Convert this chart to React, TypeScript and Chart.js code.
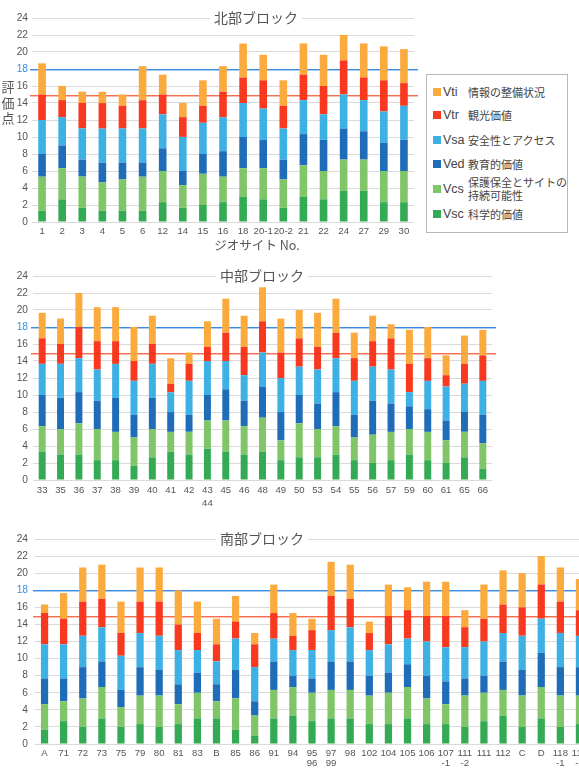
import React, { useEffect, useRef } from 'react';
import { Chart, registerables } from 'chart.js';

Chart.register(...registerables);

// ---------- series definitions (bottom → top of each stack) ----------
const SERIES_KEYS = ['Vsc', 'Vcs', 'Ved', 'Vsa', 'Vtr', 'Vti'];
const SERIES_NAMES = ['科学的価値', '保護保全とサイトの\n持続可能性', '教育的価値', '安全性とアクセス', '観光価値', '情報の整備状況'];
const SERIES_COLORS = ['#35AA55', '#80C668', '#1F6DB9', '#3DB0E4', '#F8391F', '#FBAB3D'];

// reference lines
const REF_VALUES = [18, 15];
const REF_COLORS = ['rgb(60,140,225)', 'rgb(245,110,80)'];
const Y_MAX = 24;
const Y_STEP = 2;

// ---------- 北部ブロック ----------
const NORTH_SITES = ['1', '2', '3', '4', '5', '6', '12', '14', '15', '16', '18', '20-1', '20-2', '21', '22', '24', '27', '29', '30'];
const NORTH_VSC = [1.33, 2.67, 1.67, 1.33, 1.33, 1.33, 2.33, 1.67, 2.0, 2.33, 3.0, 2.67, 1.67, 3.0, 2.67, 3.67, 3.67, 2.33, 2.33];
const NORTH_VCS = [4.0, 3.67, 3.67, 3.33, 3.67, 4.0, 3.67, 2.67, 3.67, 3.0, 3.33, 3.67, 3.33, 3.67, 3.33, 3.67, 3.67, 3.67, 3.67];
const NORTH_VED = [2.67, 2.67, 2.0, 2.33, 2.0, 1.67, 2.67, 1.67, 2.33, 3.0, 3.67, 3.33, 2.33, 3.67, 3.67, 3.67, 3.33, 3.33, 3.67];
const NORTH_VSA = [4.0, 3.33, 3.67, 4.0, 4.0, 4.0, 4.0, 4.0, 3.67, 4.0, 4.0, 3.67, 3.67, 4.0, 3.0, 4.0, 3.67, 3.67, 4.0];
const NORTH_VTR = [3.0, 2.0, 3.0, 3.0, 2.67, 3.33, 2.33, 2.33, 2.0, 3.0, 3.0, 3.33, 2.67, 3.0, 3.33, 4.0, 2.67, 3.67, 2.67];
const NORTH_VTI = [3.67, 1.67, 1.33, 1.33, 1.33, 4.0, 2.33, 1.67, 3.0, 3.0, 4.0, 3.0, 3.0, 3.67, 3.67, 3.0, 4.0, 4.0, 4.0];

// ---------- 中部ブロック ----------
const CENTRAL_SITES = ['33', '35', '36', '37', '38', '39', '40', '41', '42', ['43', '44'], '45', '46', '48', '49', '50', '53', '54', '55', '56', '57', '59', '60', '61', '65', '66'];
const CENTRAL_VSC = [3.33, 3.0, 3.0, 2.33, 2.33, 1.67, 2.67, 3.33, 3.0, 3.67, 3.33, 3.0, 3.33, 2.33, 2.67, 2.67, 3.0, 2.33, 2.0, 2.33, 3.0, 2.33, 2.0, 2.67, 1.33];
const CENTRAL_VCS = [3.0, 3.0, 3.67, 3.67, 3.33, 3.33, 3.33, 2.33, 2.67, 3.33, 3.67, 3.33, 4.0, 2.33, 4.0, 3.33, 3.33, 2.67, 3.33, 3.33, 3.0, 3.33, 2.67, 3.0, 3.0];
const CENTRAL_VED = [3.67, 3.67, 3.67, 3.33, 4.0, 2.67, 3.67, 2.33, 2.0, 3.0, 3.67, 3.0, 3.67, 3.33, 3.33, 3.0, 4.0, 2.67, 4.0, 3.33, 2.67, 2.67, 2.33, 2.33, 3.33];
const CENTRAL_VSA = [3.67, 4.0, 4.0, 3.67, 4.0, 4.0, 4.0, 2.33, 4.0, 4.0, 3.33, 3.0, 4.0, 4.0, 3.33, 4.0, 4.0, 4.0, 4.0, 4.0, 1.67, 3.33, 4.0, 3.33, 4.0];
const CENTRAL_VTR = [3.0, 2.33, 3.67, 3.33, 2.67, 2.33, 2.33, 1.0, 2.0, 1.67, 3.33, 3.33, 3.67, 3.0, 3.33, 2.67, 3.0, 2.67, 3.0, 3.67, 3.33, 2.67, 1.33, 2.33, 3.0];
const CENTRAL_VTI = [3.0, 3.0, 4.0, 4.0, 4.0, 4.0, 3.33, 3.0, 1.33, 3.0, 4.0, 3.67, 4.0, 4.0, 3.33, 4.0, 4.0, 3.0, 3.0, 1.67, 4.0, 3.67, 2.33, 3.33, 3.0];

// ---------- 南部ブロック ----------
const SOUTH_SITES = ['A', '71', '72', '73', '75', '79', '80', '81', '83', 'B', '85', '86', '91', '94', ['95', '96'], ['97', '99'], '98', '102', '104', '105', '106', ['107', '-1'], ['111', '-2'], '111', '112', 'C', 'D', ['118', '-1'], ['118', '-2']];
const SOUTH_VSC = [1.67, 2.67, 2.0, 3.0, 2.0, 2.33, 2.0, 2.33, 3.0, 3.0, 1.67, 1.0, 3.0, 3.33, 2.67, 3.0, 3.0, 2.33, 2.33, 3.0, 2.33, 2.33, 2.0, 2.67, 3.33, 2.0, 3.0, 2.0, 2.33];
const SOUTH_VCS = [3.0, 2.33, 3.33, 3.67, 2.33, 3.33, 3.67, 2.33, 3.0, 2.0, 3.67, 2.33, 3.33, 3.33, 3.33, 3.33, 3.33, 3.33, 3.67, 3.67, 3.0, 2.33, 3.67, 3.33, 3.0, 3.67, 3.67, 3.67, 3.33];
const SOUTH_VED = [3.0, 2.67, 3.67, 3.0, 2.0, 3.33, 3.0, 2.33, 2.33, 2.0, 3.33, 1.67, 3.33, 1.33, 1.67, 3.33, 3.33, 2.33, 2.33, 2.67, 2.67, 2.67, 2.0, 2.0, 3.33, 3.0, 4.0, 3.33, 3.33];
const SOUTH_VSA = [4.0, 4.0, 3.67, 4.0, 4.0, 4.0, 4.0, 4.0, 2.67, 2.67, 3.67, 4.0, 2.67, 3.0, 3.33, 3.67, 4.0, 3.0, 3.33, 3.0, 4.0, 4.0, 3.67, 4.0, 3.33, 4.0, 4.0, 4.0, 3.67];
const SOUTH_VTR = [3.67, 3.0, 4.0, 3.33, 2.67, 3.67, 4.0, 3.0, 2.0, 2.0, 2.0, 2.67, 3.0, 1.67, 2.33, 4.0, 3.33, 2.0, 3.33, 3.33, 3.0, 3.67, 2.33, 2.67, 3.33, 3.33, 4.0, 3.67, 3.0];
const SOUTH_VTI = [1.0, 3.0, 4.0, 4.0, 3.67, 4.0, 4.0, 4.0, 3.67, 3.0, 3.0, 1.33, 3.33, 2.67, 1.33, 4.0, 4.0, 1.33, 3.67, 2.67, 4.0, 4.0, 2.0, 4.0, 4.0, 4.0, 3.33, 4.0, 3.67];

const LATIN_FONT = "'Liberation Sans', Arial, Helvetica, sans-serif";
const CJK_FONT = "'Noto Sans CJK JP', 'Noto Sans', sans-serif";
const TEXT_COLOR = '#555555';
const GRID_COLOR = '#DADADA';
const REF_TICK_COLOR = 'rgb(58,142,224)';

type PanelCfg = {
  title: string;
  titleX: number;
  sites: (string | string[])[];
  series: number[][];
  canvasTop: number;
  canvasWidth: number;
  canvasHeight: number;
  plotLeft: number;
  plotTop: number;
  plotRight: number;
  plotBottom: number;
  labelLineHeight: number;
  xTitle?: { text: string; x: number; y: number };
  yTitle?: { chars: string[]; x: number; ys: number[] };
};

const PANELS: PanelCfg[] = [
  {
    title: '北部ブロック',
    titleX: 256,
    sites: NORTH_SITES,
    series: [NORTH_VSC, NORTH_VCS, NORTH_VED, NORTH_VSA, NORTH_VTR, NORTH_VTI],
    canvasTop: 0,
    canvasWidth: 420,
    canvasHeight: 256,
    plotLeft: 32,
    plotTop: 18,
    plotRight: 414,
    plotBottom: 222,
    labelLineHeight: 1.2,
    xTitle: { text: 'ジオサイト No.', x: 257, y: 245 },
    yTitle: { chars: ['評', '価', '点'], x: 8, ys: [87, 103, 118] },
  },
  {
    title: '中部ブロック',
    titleX: 262,
    sites: CENTRAL_SITES,
    series: [CENTRAL_VSC, CENTRAL_VCS, CENTRAL_VED, CENTRAL_VSA, CENTRAL_VTR, CENTRAL_VTI],
    canvasTop: 258,
    canvasWidth: 505,
    canvasHeight: 260,
    plotLeft: 33,
    plotTop: 18,
    plotRight: 492,
    plotBottom: 222,
    labelLineHeight: 1.35,
  },
  {
    title: '南部ブロック',
    titleX: 262,
    sites: SOUTH_SITES,
    series: [SOUTH_VSC, SOUTH_VCS, SOUTH_VED, SOUTH_VSA, SOUTH_VTR, SOUTH_VTI],
    canvasTop: 521,
    canvasWidth: 600,
    canvasHeight: 247,
    plotLeft: 35,
    plotTop: 18,
    plotRight: 589,
    plotBottom: 223,
    labelLineHeight: 1.1,
  },
];

function buildConfig(cfg: PanelCfg): any {
  const overlay = {
    id: 'overlay',
    beforeDatasetsDraw(chart: any) {
      const { ctx, chartArea, scales } = chart;
      const y = scales.y;
      REF_VALUES.forEach((v, i) => {
        const py = Math.round(y.getPixelForValue(v));
        const x0 = chartArea.left - 2;
        const w = chartArea.right - chartArea.left + 6;
        ctx.save();
        ctx.fillStyle = REF_COLORS[i];
        ctx.fillRect(x0, py, w, 1);
        // soft second row, like an anti-aliased 1.5px rule
        ctx.globalAlpha = 0.45;
        ctx.fillRect(x0, py + 1, w, 1);
        ctx.restore();
      });
    },
    afterDraw(chart: any) {
      const { ctx, scales } = chart;
      const y = scales.y;
      ctx.save();
      // panel title sitting on the top grid line
      ctx.font = `14px ${CJK_FONT}`;
      const w = ctx.measureText(cfg.title).width;
      const ty = y.getPixelForValue(Y_MAX);
      ctx.fillStyle = '#ffffff';
      ctx.fillRect(cfg.titleX - w / 2 - 4, ty - 9, w + 8, 18);
      ctx.fillStyle = TEXT_COLOR;
      ctx.textAlign = 'center';
      ctx.textBaseline = 'middle';
      ctx.fillText(cfg.title, cfg.titleX, ty);
      if (cfg.xTitle) {
        ctx.font = `12.5px ${CJK_FONT}`;
        ctx.fillText(cfg.xTitle.text, cfg.xTitle.x, cfg.xTitle.y);
      }
      if (cfg.yTitle) {
        ctx.font = `13px ${CJK_FONT}`;
        cfg.yTitle.chars.forEach((c, i) => ctx.fillText(c, cfg.yTitle!.x, cfg.yTitle!.ys[i]));
      }
      ctx.restore();
    },
  };

  return {
    type: 'bar',
    data: {
      labels: cfg.sites,
      datasets: SERIES_KEYS.map((k, i) => ({
        label: k,
        data: cfg.series[i],
        backgroundColor: SERIES_COLORS[i],
        borderWidth: 0,
        categoryPercentage: 1,
        barPercentage: 0.38,
      })),
    },
    options: {
      responsive: false,
      animation: false,
      devicePixelRatio: 1,
      layout: {
        padding: { top: cfg.plotTop, right: cfg.canvasWidth - cfg.plotRight, left: 0, bottom: 0 },
      },
      plugins: {
        legend: { display: false },
        tooltip: { enabled: false },
        title: { display: false },
      },
      scales: {
        x: {
          stacked: true,
          grid: { display: false, drawTicks: false, tickLength: 0 },
          border: { display: false },
          ticks: {
            color: TEXT_COLOR,
            font: { family: LATIN_FONT, size: 9.6, lineHeight: cfg.labelLineHeight },
            padding: 4,
            maxRotation: 0,
            minRotation: 0,
            autoSkip: false,
          },
          afterFit: (s: any) => {
            s.height = cfg.canvasHeight - cfg.plotBottom;
          },
        },
        y: {
          stacked: true,
          min: 0,
          max: Y_MAX,
          grid: { color: GRID_COLOR, lineWidth: 1, drawTicks: false, tickLength: 0 },
          border: { display: false },
          ticks: {
            stepSize: Y_STEP,
            padding: cfg.plotLeft - 28,
            color: (c: any) => (c.tick && Math.abs(c.tick.value - REF_VALUES[0]) < 0.01 ? REF_TICK_COLOR : TEXT_COLOR),
            font: { family: LATIN_FONT, size: 10.2 },
          },
          afterFit: (s: any) => {
            s.width = cfg.plotLeft;
          },
        },
      },
    },
    plugins: [overlay],
  };
}

function Panel({ cfg }: { cfg: PanelCfg }) {
  const ref = useRef<HTMLCanvasElement>(null);
  useEffect(() => {
    const chart = new Chart(ref.current as HTMLCanvasElement, buildConfig(cfg));
    return () => chart.destroy();
  }, [cfg]);
  return (
    <canvas
      ref={ref}
      width={cfg.canvasWidth}
      height={cfg.canvasHeight}
      style={{
        position: 'absolute',
        left: 0,
        top: cfg.canvasTop,
        width: cfg.canvasWidth,
        height: cfg.canvasHeight,
        display: 'block',
      }}
    />
  );
}

// legend rows, listed top (Vti) → bottom (Vsc)
const LEGEND_ROW_CENTERS = [17, 40, 65, 89, 114, 139];

function Legend() {
  const order = [5, 4, 3, 2, 1, 0];
  return (
    <div
      style={{
        position: 'absolute',
        left: 426,
        top: 74,
        width: 142,
        height: 159,
        border: '1px solid #B8B8B8',
        background: '#fff',
        boxSizing: 'border-box',
      }}
    >
      {order.map((idx, r) => {
        const cy = LEGEND_ROW_CENTERS[r];
        const lines = SERIES_NAMES[idx].split('\n');
        return (
          <React.Fragment key={SERIES_KEYS[idx]}>
            <div
              style={{
                position: 'absolute',
                left: 6,
                top: cy - 4,
                width: 8,
                height: 8,
                background: SERIES_COLORS[idx],
              }}
            />
            <div
              style={{
                position: 'absolute',
                left: 16,
                top: cy - 8,
                height: 16,
                lineHeight: '16px',
                fontFamily: LATIN_FONT,
                fontSize: 12.5,
                color: '#444',
                whiteSpace: 'nowrap',
              }}
            >
              {SERIES_KEYS[idx]}
            </div>
            <div
              style={{
                position: 'absolute',
                left: 41,
                top: cy - (lines.length * 13) / 2,
                lineHeight: '13px',
                fontFamily: CJK_FONT,
                fontSize: 11,
                color: '#444',
                whiteSpace: 'nowrap',
              }}
            >
              {lines.map((l) => (
                <div key={l}>{l}</div>
              ))}
            </div>
          </React.Fragment>
        );
      })}
    </div>
  );
}

export default function App() {
  return (
    <div
      style={{
        position: 'fixed',
        left: 0,
        top: 0,
        width: 579,
        height: 768,
        overflow: 'hidden',
        background: '#ffffff',
      }}
    >
      {PANELS.map((p) => (
        <Panel key={p.title} cfg={p} />
      ))}
      <Legend />
    </div>
  );
}
